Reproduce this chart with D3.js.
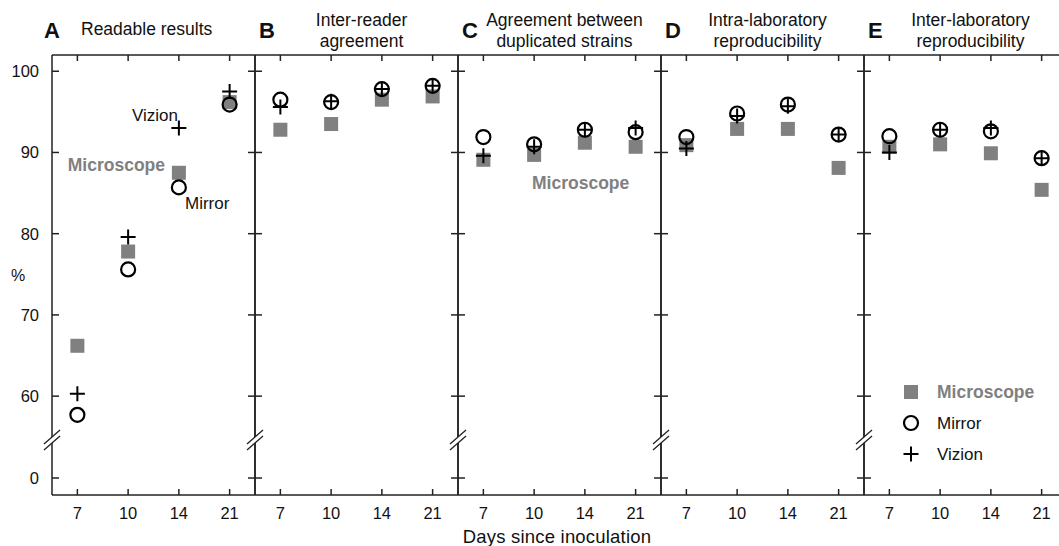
<!DOCTYPE html>
<html>
<head>
<meta charset="utf-8">
<script src="https://cdn.jsdelivr.net/npm/d3@7"></script>
<style>
    body { margin: 0; background: #fff; }
    svg { display: block; font-family: "Liberation Sans", Arial, Helvetica, sans-serif; }
    .frame line { stroke: #222; stroke-width: 1.5; }
    text { fill: #111; }
</style>
</head>
<body>
<svg id="chart" width="1059" height="546"></svg>
<script>
// x categories and tick labels
const days = ["7", "10", "14", "21"];
const yTicks = [0, 60, 70, 80, 90, 100];

const panelLetters = ["A", "B", "C", "D", "E"];
const panelTitles = [
    ["Readable results"],
    ["Inter-reader", "agreement"],
    ["Agreement between", "duplicated strains"],
    ["Intra-laboratory", "reproducibility"],
    ["Inter-laboratory", "reproducibility"]
];

// one row per panel, one value per day (7, 10, 14, 21), in %
const microscope = [
    [66.2, 77.8, 87.5, 96.2],
    [92.8, 93.5, 96.5, 96.9],
    [89.1, 89.7, 91.2, 90.7],
    [90.9, 92.9, 92.9, 88.1],
    [90.7, 91.0, 89.9, 85.4]
];
const mirror = [
    [57.7, 75.6, 85.7, 95.9],
    [96.5, 96.2, 97.8, 98.2],
    [91.9, 91.0, 92.8, 92.5],
    [91.9, 94.8, 95.9, 92.2],
    [92.0, 92.8, 92.6, 89.3]
];
const vizion = [
    [60.3, 79.6, 93.0, 97.5],
    [95.6, 96.3, 97.8, 98.2],
    [89.6, 90.7, 92.8, 93.0],
    [90.5, 94.5, 95.7, 92.2],
    [90.0, 92.8, 93.0, 89.3]
];

const gray = "#808080";
const left = 52, panelWidth = 203, frameTop = 55, frameBottom = 495;
const breakY = 440;

const svg = d3.select("#chart");

// broken y axis: 0 at the bottom, 55..102 above the break
const y = d3.scaleLinear()
    .domain([-2.1, 0, 54.6, 102])
    .range([frameBottom, 478, breakY, frameTop]);

const panelX = d3.scaleBand()
    .domain(panelLetters)
    .range([left, left + panelWidth * panelLetters.length]);

const x = d3.scalePoint()
    .domain(days)
    .range([0, panelWidth])
    .padding(0.5);

function square(g, cx, cy) {
    g.append('rect')
        .attr('x', cx - 7).attr('y', cy - 7)
        .attr('width', 14).attr('height', 14)
        .attr('fill', gray);
}

function circle(g, cx, cy) {
    g.append('circle')
        .attr('cx', cx).attr('cy', cy).attr('r', 7)
        .attr('fill', "none")
        .attr('stroke', "#000")
        .attr('stroke-width', 2.2);
}

function plus(g, cx, cy) {
    g.append('path')
        .attr('d', `M${cx - 7.5},${cy}H${cx + 7.5}M${cx},${cy - 7.5}V${cy + 7.5}`)
        .attr('stroke', "#000")
        .attr('stroke-width', 2);
}

panelLetters.forEach((letter, i) => {
    let x0 = panelX(letter);
    let g = svg.append('g').attr('transform', `translate(${x0},0)`);

    // frame
    let frame = g.append('g').attr('class', "frame");
    frame.append('line').attr('x1', 0).attr('x2', panelWidth).attr('y1', frameTop).attr('y2', frameTop);
    frame.append('line').attr('x1', 0).attr('x2', panelWidth).attr('y1', frameBottom).attr('y2', frameBottom);
    frame.append('line').attr('x1', 0).attr('x2', 0).attr('y1', frameTop).attr('y2', frameBottom);
    frame.append('line').attr('x1', panelWidth).attr('x2', panelWidth).attr('y1', frameTop).attr('y2', frameBottom);

    // inward ticks
    days.forEach((d) => {
        frame.append('line').attr('x1', x(d)).attr('x2', x(d)).attr('y1', frameTop).attr('y2', frameTop + 6);
        frame.append('line').attr('x1', x(d)).attr('x2', x(d)).attr('y1', frameBottom).attr('y2', frameBottom - 6);
    });
    yTicks.forEach((t) => {
        frame.append('line').attr('x1', 0).attr('x2', 7).attr('y1', y(t)).attr('y2', y(t));
        frame.append('line').attr('x1', panelWidth).attr('x2', panelWidth - 7).attr('y1', y(t)).attr('y2', y(t));
    });

    // axis break on the left border
    let br = g.append('g').attr('class', "break");
    br.append('rect')
        .attr('x', -3).attr('y', breakY - 3)
        .attr('width', 6).attr('height', 6)
        .attr('fill', "#fff");
    [-3, 3].forEach((dy) => {
        br.append('line')
            .attr('x1', -8).attr('y1', breakY + dy + 7)
            .attr('x2', 8).attr('y2', breakY + dy - 7)
            .attr('stroke', "#222").attr('stroke-width', 1.3);
    });

    // x tick labels
    g.selectAll(".xlabel").data(days).enter().append('text')
        .attr('class', "xlabel")
        .attr('x', (d) => x(d))
        .attr('y', 519)
        .attr('text-anchor', "middle")
        .attr('font-size', 16.5)
        .text((d) => d);

    // panel letter and title
    g.append('text')
        .attr('x', i == 0 ? -8 : 4)
        .attr('y', 38)
        .attr('font-size', 22)
        .attr('font-weight', "bold")
        .text(letter);
    let title = panelTitles[i];
    title.forEach((line, k) => {
        g.append('text')
            .attr('x', i == 0 ? 29 : panelWidth / 2 + 5)
            .attr('y', title.length == 1 ? 35 : 26 + k * 21)
            .attr('text-anchor', i == 0 ? "start" : "middle")
            .attr('font-size', 17.5)
            .text(line);
    });

    // markers
    let m = g.append('g');
    days.forEach((d, j) => square(m, x(d), y(microscope[i][j])));
    days.forEach((d, j) => circle(m, x(d), y(mirror[i][j])));
    days.forEach((d, j) => plus(m, x(d), y(vizion[i][j])));
});

// y tick labels on panel A
svg.selectAll(".ylabel").data(yTicks).enter().append('text')
    .attr('class', "ylabel")
    .attr('x', left - 13)
    .attr('y', (t) => y(t) + 6)
    .attr('text-anchor', "end")
    .attr('font-size', 16.5)
    .text((t) => t);

svg.append('text')
    .attr('x', 18).attr('y', 281)
    .attr('text-anchor', "middle")
    .attr('font-size', 16)
    .text("%");

svg.append('text')
    .attr('x', 557).attr('y', 543)
    .attr('text-anchor', "middle")
    .attr('font-size', 18.5)
    .attr('letter-spacing', 0.2)
    .text("Days since inoculation");

// direct labels
function label(px, py, txt, anchor, isGray) {
    svg.append('text')
        .attr('x', px).attr('y', py)
        .attr('text-anchor', anchor)
        .attr('font-size', isGray ? 17.5 : 17)
        .attr('font-weight', isGray ? "bold" : "normal")
        .style('fill', isGray ? gray : "#111")
        .text(txt);
}
label(178, 121, "Vizion", "end", false);
label(165, 171, "Microscope", "end", true);
label(185, 209, "Mirror", "start", false);
label(532, 189, "Microscope", "start", true);

// legend in panel E
const legendX = 911, legendText = 937;
const legendItems = [
    {name: "Microscope", draw: square, gray: true},
    {name: "Mirror", draw: circle, gray: false},
    {name: "Vizion", draw: plus, gray: false}
];
legendItems.forEach((item, k) => {
    let ly = 392 + k * 31;
    item.draw(svg, legendX, ly);
    label(legendText, ly + 6, item.name, "start", item.gray);
});
</script>
</body>
</html>
